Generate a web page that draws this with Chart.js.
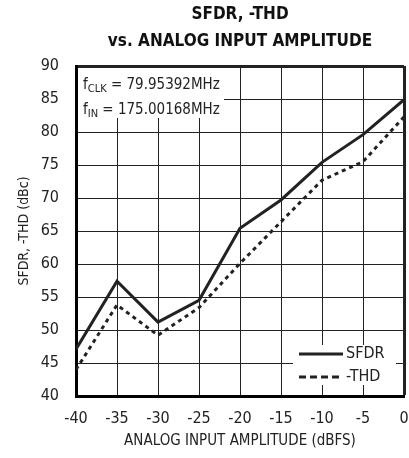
<!DOCTYPE html>
<html>
<head>
<meta charset="utf-8">
<script src="https://cdn.jsdelivr.net/npm/chart.js@4.4.1/dist/chart.umd.min.js"></script>
<style>
  html, body { margin: 0; padding: 0; background: #fff; }
  #wrap { width: 409px; height: 458px; position: relative; }
</style>
</head>
<body>
<div id="wrap"><canvas id="chart"></canvas></div>
<script>
// данные
const inputAmplitude = [-40, -35, -30, -25, -20, -15, -10, -5, 0];
const sfdrValues = [47.1, 57.4, 51.2, 54.5, 65.4, 69.7, 75.4, 79.6, 84.9];
const thdValues = [44.0, 53.8, 49.2, 53.4, 60.1, 66.4, 72.7, 75.5, 82.3];
const xTicks = [-40, -35, -30, -25, -20, -15, -10, -5, 0];
const yTicks = [40, 45, 50, 55, 60, 65, 70, 75, 80, 85, 90];

const FONT = "'Liberation Sans Narrow', 'DejaVu Sans Condensed', 'Arial Narrow', sans-serif";
const INK = '#222';

// рамка с условиями измерения и легенда внутри поля графика
const insidePlugin = {
    id: 'inside',
    beforeDatasetsDraw(chart) {
        const ctx = chart.ctx;
        const a = chart.chartArea;
        ctx.save();
        ctx.fillStyle = '#fff';
        ctx.fillRect(a.left + 2, a.top + 2, 146, 50);
        ctx.fillRect(a.left + 217, a.top + 279, 103, 40);

        ctx.fillStyle = INK;
        ctx.textBaseline = 'alphabetic';
        const line = (x, y, main, sub, rest) => {
            ctx.font = '15px ' + FONT;
            ctx.fillText(main, x, y);
            x += ctx.measureText(main).width;
            ctx.font = '11px ' + FONT;
            ctx.fillText(sub, x, y + 3);
            x += ctx.measureText(sub).width;
            ctx.font = '15px ' + FONT;
            ctx.fillText(rest, x, y);
        };
        line(a.left + 7, a.top + 23, 'f', 'CLK', ' = 79.95392MHz');
        line(a.left + 7, a.top + 48, 'f', 'IN', ' = 175.00168MHz');

        // легенда
        ctx.strokeStyle = INK;
        ctx.lineWidth = 3;
        ctx.beginPath();
        ctx.moveTo(a.left + 223, a.top + 288);
        ctx.lineTo(a.left + 267, a.top + 288);
        ctx.stroke();
        ctx.setLineDash([7, 4]);
        ctx.beginPath();
        ctx.moveTo(a.left + 223, a.top + 311);
        ctx.lineTo(a.left + 267, a.top + 311);
        ctx.stroke();
        ctx.setLineDash([]);
        ctx.font = '16px ' + FONT;
        ctx.textBaseline = 'middle';
        ctx.fillText('SFDR', a.left + 270, a.top + 288);
        ctx.fillText('-THD', a.left + 270, a.top + 311);
        ctx.restore();
    }
};

const ctx = document.getElementById('chart').getContext('2d');
const chart = new Chart(ctx, {
    type: 'line',
    data: {
        datasets: [
            {
                label: 'SFDR',
                data: inputAmplitude.map((x, i) => ({ x: x, y: sfdrValues[i] })),
                borderColor: INK,
                borderWidth: 3,
                pointRadius: 0,
                tension: 0,
                fill: false
            },
            {
                label: '-THD',
                data: inputAmplitude.map((x, i) => ({ x: x, y: thdValues[i] })),
                borderColor: INK,
                borderWidth: 3,
                borderDash: [4, 4],
                pointRadius: 0,
                tension: 0,
                fill: false
            }
        ]
    },
    options: {
        responsive: true,
        maintainAspectRatio: false,
        animation: false,
        layout: { padding: { left: 0, right: 5, top: 0, bottom: 0 } },
        plugins: {
            legend: { display: false },
            tooltip: { enabled: false },
            title: {
                display: true,
                fullSize: false,
                text: ['SFDR, -THD', 'vs. ANALOG INPUT AMPLITUDE'],
                color: '#111',
                font: { family: FONT, size: 17, weight: 'bold', lineHeight: '27px' },
                padding: { top: 1, bottom: 11 }
            }
        },
        scales: {
            x: {
                type: 'linear',
                min: -40,
                max: 0,
                afterFit: (s) => { s.height = 62; s.paddingLeft = 0; s.paddingRight = 0; },
                afterBuildTicks: (s) => { s.ticks = xTicks.map(v => ({ value: v })); },
                ticks: {
                    color: INK,
                    font: { family: FONT, size: 16 },
                    padding: 13,
                    maxRotation: 0
                },
                grid: {
                    color: INK,
                    lineWidth: (c) => (c.tick && c.tick.value === 0 ? 3 : 1),
                    drawTicks: false
                },
                border: { display: true, color: '#000', width: 3 },
                title: {
                    display: true,
                    text: 'ANALOG INPUT AMPLITUDE (dBFS)',
                    color: INK,
                    font: { family: FONT, size: 15 },
                    padding: { top: 8, bottom: 8 }
                }
            },
            y: {
                type: 'linear',
                min: 40,
                max: 90,
                afterFit: (s) => { s.width = 76; },
                afterBuildTicks: (s) => { s.ticks = yTicks.map(v => ({ value: v })); },
                ticks: {
                    color: INK,
                    font: { family: FONT, size: 16 },
                    padding: 17
                },
                grid: {
                    color: INK,
                    lineWidth: (c) => (c.tick && c.tick.value === 90 ? 3 : 1),
                    drawTicks: false
                },
                border: { display: true, color: '#000', width: 3 },
                title: {
                    display: true,
                    text: 'SFDR, -THD (dBc)',
                    color: INK,
                    font: { family: FONT, size: 14 },
                    padding: { top: 16, bottom: 0 }
                }
            }
        }
    },
    plugins: [insidePlugin]
});
</script>
</body>
</html>
